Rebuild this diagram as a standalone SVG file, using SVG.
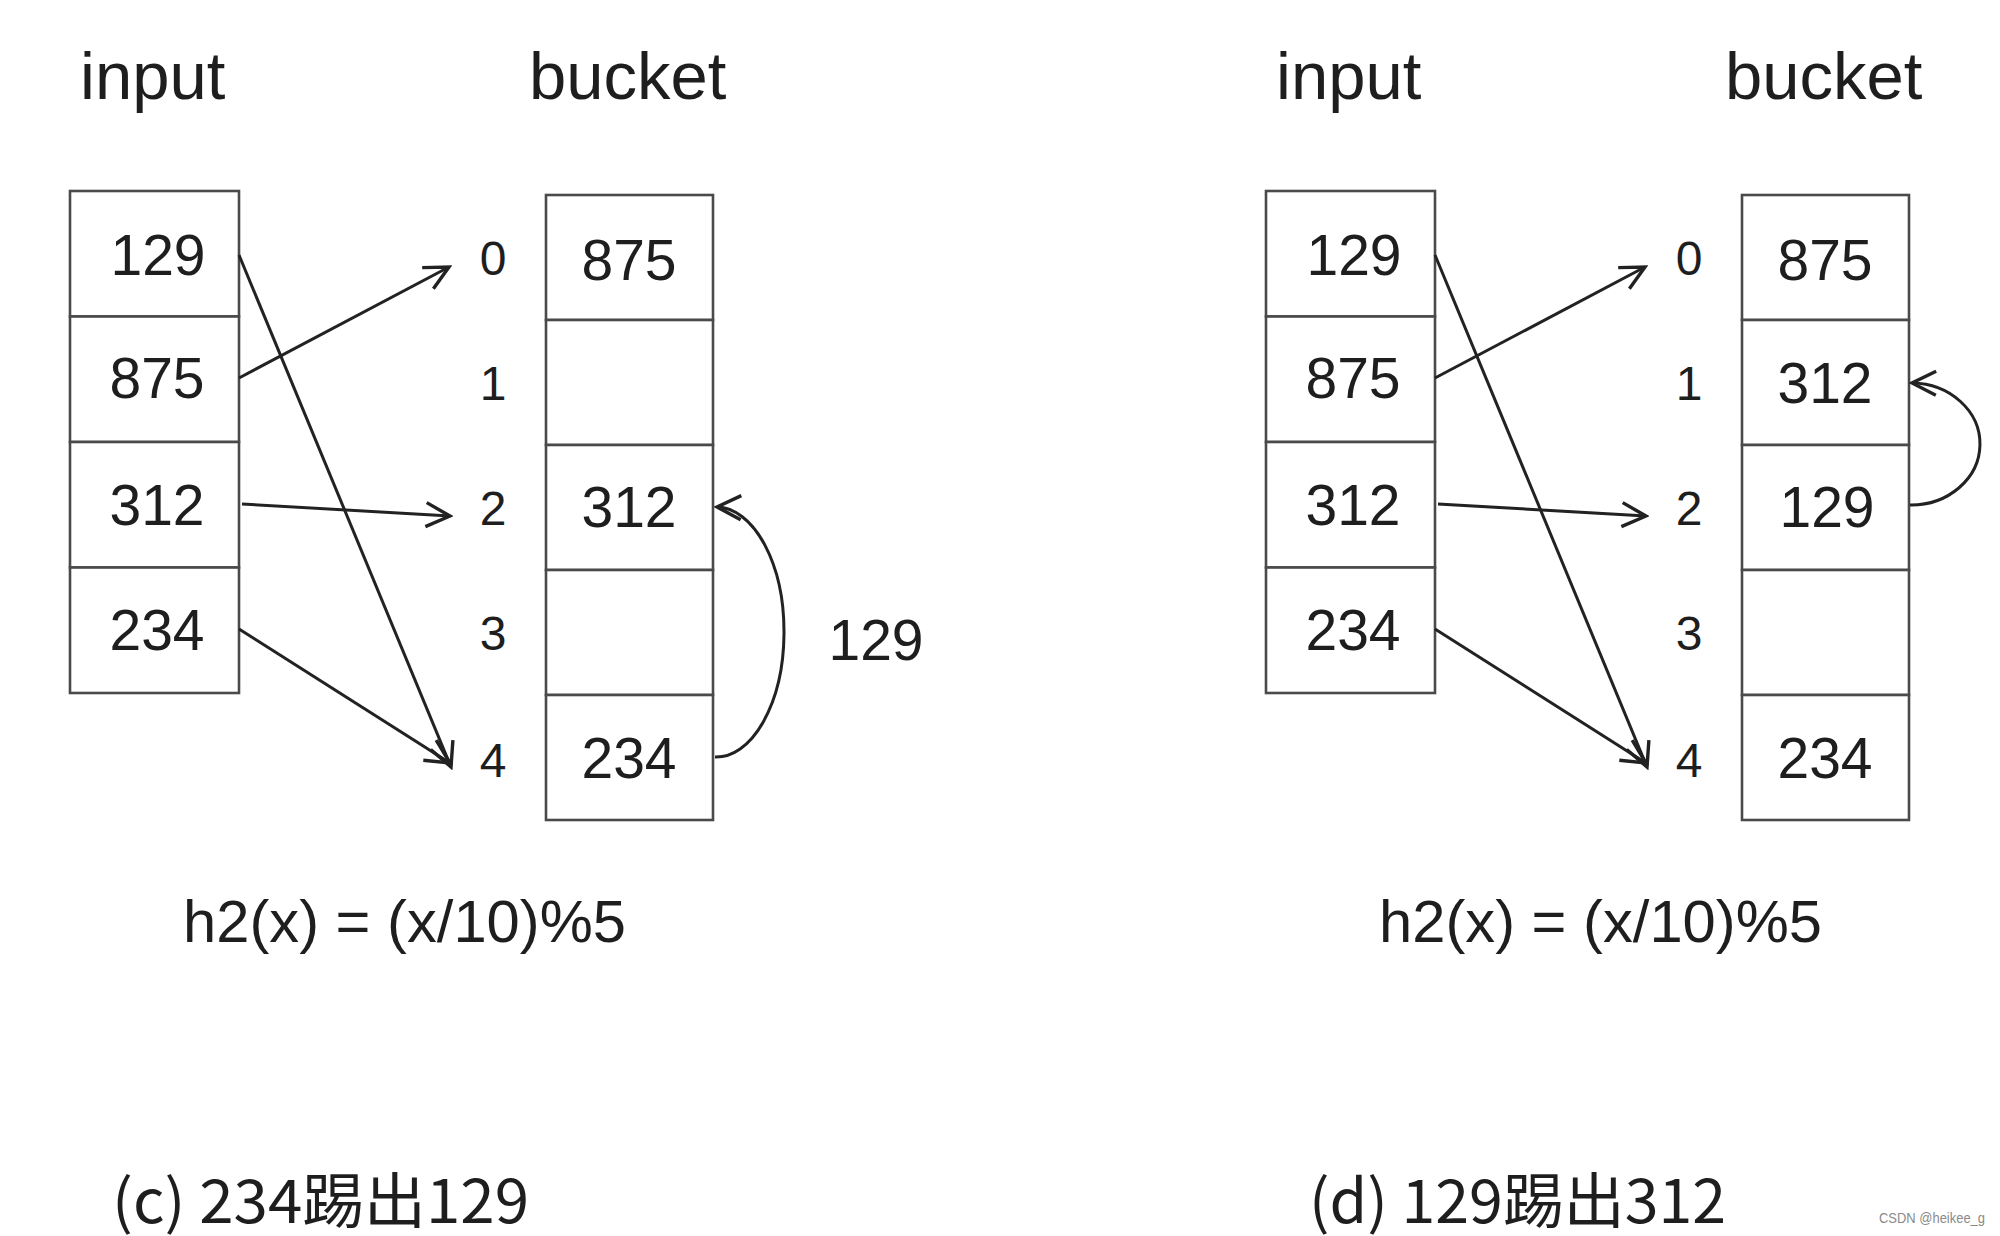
<svg xmlns="http://www.w3.org/2000/svg" width="2000" height="1236" viewBox="0 0 2000 1236">
  <style>
    .cell { fill: #ffffff; stroke: #4a4a4a; stroke-width: 2.6; }
    .t { font-family: "Liberation Sans", Arial, sans-serif; fill: #1e1e1e; }
    .title { font-size: 67px; }
    .num { font-size: 57px; text-anchor: middle; }
    .idx { font-size: 48px; text-anchor: middle; }
    .formula { font-size: 59px; }
    .cap { font-family: "Noto Sans CJK SC", "Liberation Sans", sans-serif; font-size: 60px; fill: #1e1e1e; }
    .wm { font-family: "Liberation Sans", Arial, sans-serif; font-size: 15px; fill: #8a8a8a; }
    .conn { fill: none; stroke: #222222; stroke-width: 3; marker-end: url(#arrow); }
  </style>
  <defs>
    <marker id="arrow" markerUnits="userSpaceOnUse" markerWidth="32" markerHeight="32" viewBox="0 0 32 32" refX="29" refY="16" orient="auto">
      <path d="M5,4 L29,16 L5,28" fill="none" stroke="#222222" stroke-width="3.4" stroke-linejoin="miter"/>
    </marker>
  </defs>
  <rect x="0" y="0" width="2000" height="1236" fill="#ffffff"/>

  <!-- Panel (c) -->
  <g id="panel-c">
    <text class="t title" x="80" y="99">input</text>
    <text class="t title" x="529" y="99">bucket</text>

    <g id="c-input">
      <g id="c-in-0"><rect class="cell" x="70" y="191" width="169" height="125.5"/><text class="t num" x="158" y="275">129</text></g>
      <g id="c-in-1"><rect class="cell" x="70" y="316.5" width="169" height="125.5"/><text class="t num" x="157" y="398">875</text></g>
      <g id="c-in-2"><rect class="cell" x="70" y="442" width="169" height="125.5"/><text class="t num" x="157" y="525">312</text></g>
      <g id="c-in-3"><rect class="cell" x="70" y="567.5" width="169" height="125.5"/><text class="t num" x="157" y="650">234</text></g>
    </g>

    <g id="c-index">
      <text class="t idx" x="493" y="275">0</text>
      <text class="t idx" x="493" y="400">1</text>
      <text class="t idx" x="493" y="525">2</text>
      <text class="t idx" x="493" y="650">3</text>
      <text class="t idx" x="493" y="777">4</text>
    </g>

    <g id="c-bucket">
      <g id="c-b-0"><rect class="cell" x="546" y="195" width="167" height="125"/><text class="t num" x="629" y="280">875</text></g>
      <g id="c-b-1"><rect class="cell" x="546" y="320" width="167" height="125"/></g>
      <g id="c-b-2"><rect class="cell" x="546" y="445" width="167" height="125"/><text class="t num" x="629" y="527">312</text></g>
      <g id="c-b-3"><rect class="cell" x="546" y="570" width="167" height="125"/></g>
      <g id="c-b-4"><rect class="cell" x="546" y="695" width="167" height="125"/><text class="t num" x="629" y="778">234</text></g>
    </g>

    <g id="c-connectors">
      <line class="conn" x1="239" y1="255" x2="451" y2="767"/>
      <line class="conn" x1="239" y1="378" x2="449" y2="267"/>
      <line class="conn" x1="242" y1="504" x2="450" y2="516"/>
      <line class="conn" x1="239" y1="629" x2="450" y2="763"/>
      <path class="conn" d="M715,757 A68,125 0 0 0 717,507"/>
    </g>

    <text class="t num" x="876" y="660">129</text>
    <text class="t formula" x="183" y="942" textLength="443" lengthAdjust="spacingAndGlyphs">h2(x) = (x/10)%5</text>
    <text class="cap" x="112" y="1223" textLength="417" lengthAdjust="spacingAndGlyphs">(c) 234踢出129</text>
  </g>

  <!-- Panel (d) -->
  <g id="panel-d" transform="translate(1196,0)">
    <text class="t title" x="80" y="99">input</text>
    <text class="t title" x="529" y="99">bucket</text>

    <g id="d-input">
      <g id="d-in-0"><rect class="cell" x="70" y="191" width="169" height="125.5"/><text class="t num" x="158" y="275">129</text></g>
      <g id="d-in-1"><rect class="cell" x="70" y="316.5" width="169" height="125.5"/><text class="t num" x="157" y="398">875</text></g>
      <g id="d-in-2"><rect class="cell" x="70" y="442" width="169" height="125.5"/><text class="t num" x="157" y="525">312</text></g>
      <g id="d-in-3"><rect class="cell" x="70" y="567.5" width="169" height="125.5"/><text class="t num" x="157" y="650">234</text></g>
    </g>

    <g id="d-index">
      <text class="t idx" x="493" y="275">0</text>
      <text class="t idx" x="493" y="400">1</text>
      <text class="t idx" x="493" y="525">2</text>
      <text class="t idx" x="493" y="650">3</text>
      <text class="t idx" x="493" y="777">4</text>
    </g>

    <g id="d-bucket">
      <g id="d-b-0"><rect class="cell" x="546" y="195" width="167" height="125"/><text class="t num" x="629" y="280">875</text></g>
      <g id="d-b-1"><rect class="cell" x="546" y="320" width="167" height="125"/><text class="t num" x="629" y="403">312</text></g>
      <g id="d-b-2"><rect class="cell" x="546" y="445" width="167" height="125"/><text class="t num" x="631" y="527">129</text></g>
      <g id="d-b-3"><rect class="cell" x="546" y="570" width="167" height="125"/></g>
      <g id="d-b-4"><rect class="cell" x="546" y="695" width="167" height="125"/><text class="t num" x="629" y="778">234</text></g>
    </g>

    <g id="d-connectors">
      <line class="conn" x1="239" y1="255" x2="451" y2="767"/>
      <line class="conn" x1="239" y1="378" x2="449" y2="267"/>
      <line class="conn" x1="242" y1="504" x2="450" y2="516"/>
      <line class="conn" x1="239" y1="629" x2="450" y2="763"/>
      <path class="conn" d="M714,505 A69,61 0 0 0 716,383"/>
    </g>

    <text class="t formula" x="183" y="942" textLength="443" lengthAdjust="spacingAndGlyphs">h2(x) = (x/10)%5</text>
    <text class="cap" x="113" y="1223" textLength="417" lengthAdjust="spacingAndGlyphs">(d) 129踢出312</text>
  </g>

  <text class="wm" x="1879" y="1223" textLength="106" lengthAdjust="spacingAndGlyphs">CSDN @heikee_g</text>
</svg>
